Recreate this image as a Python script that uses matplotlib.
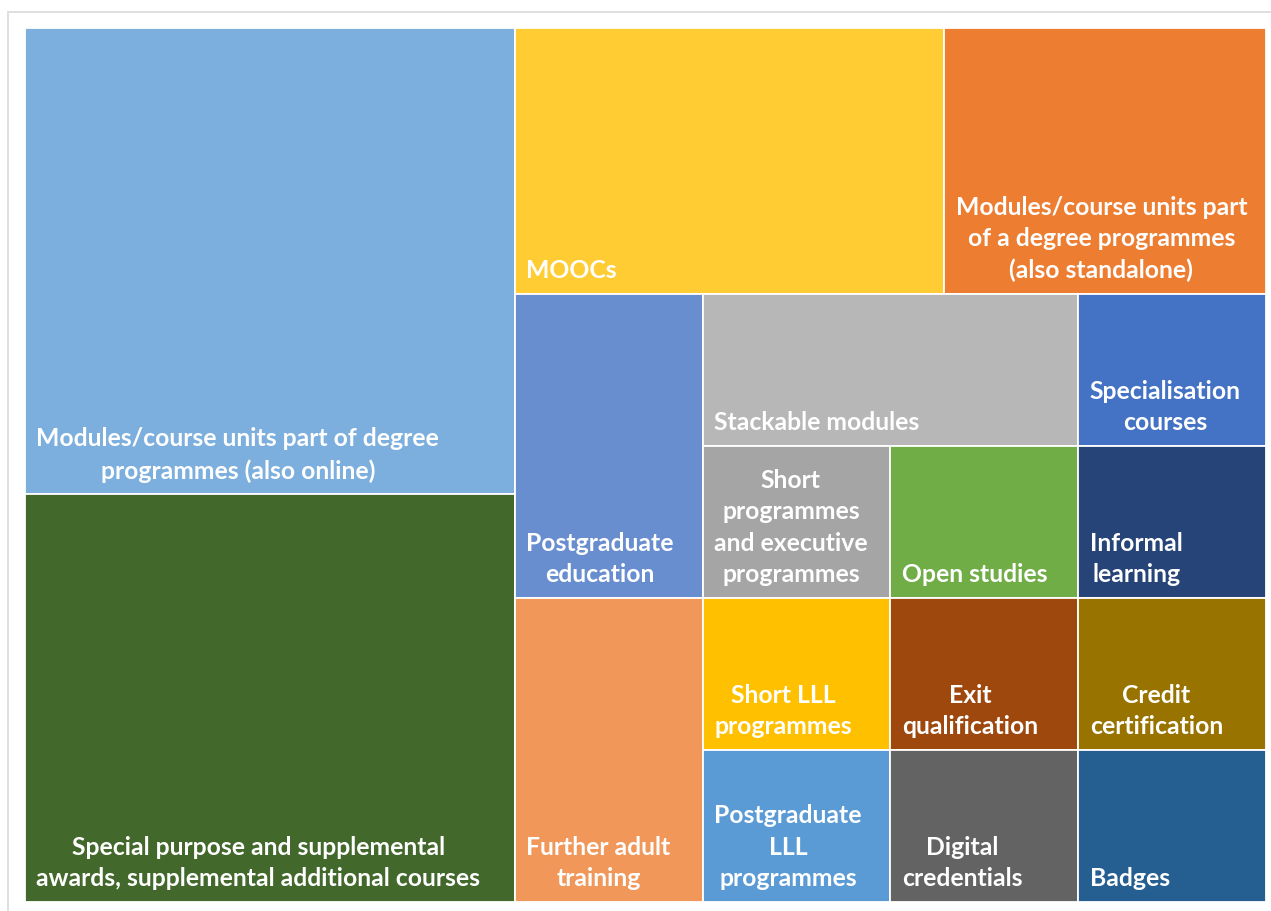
import matplotlib
matplotlib.use("Agg")
import matplotlib.pyplot as plt
from matplotlib.patches import Rectangle

# ---------------- data ----------------
categories = [
    "Modules/course units part of degree\nprogrammes (also online)",
    "Special purpose and supplemental\nawards, supplemental additional courses",
    "MOOCs",
    "Modules/course units part\nof a degree programmes\n(also standalone)",
    "Postgraduate\neducation",
    "Further adult\ntraining",
    "Stackable modules",
    "Specialisation\ncourses",
    "Short\nprogrammes\nand executive\nprogrammes",
    "Short LLL\nprogrammes",
    "Postgraduate\nLLL\nprogrammes",
    "Open studies",
    "Informal\nlearning",
    "Exit\nqualification",
    "Digital\ncredentials",
    "Credit\ncertification",
    "Badges",
]
values = [8, 7, 4, 3, 2, 2, 2, 1, 1, 1, 1, 1, 1, 1, 1, 1, 1]
colors = [
    "#7CAFDD", "#43682B", "#FFCD33", "#ED7D31", "#698ED0", "#F1975A",
    "#B7B7B7", "#4472C4", "#A5A5A5", "#FFC000", "#5B9BD5", "#70AD47",
    "#264478", "#9E480E", "#636363", "#997300", "#255E91",
]

# ---------------- figure ----------------
FW, FH = 1271, 912
DPI = 100
fig = plt.figure(figsize=(FW / DPI, FH / DPI), dpi=DPI)
fig.patch.set_facecolor("white")

left_px, top_px, right_px, bottom_px = 25, 29, 1266, 903
W = right_px - left_px
H = bottom_px - top_px
ax = fig.add_axes([left_px / FW, 1 - bottom_px / FH, W / FW, H / FH])
ax.set_xlim(0, W)
ax.set_ylim(H, 0)
ax.axis("off")

# light frame around the chart area
fig.add_artist(Rectangle((8 / FW, -0.05), 1.2, 1 - 13 / FH + 0.05,
                         transform=fig.transFigure, fill=False,
                         edgecolor="#D9D9D9", linewidth=1.2))


def treemap_layout(vals, x, y, w, h, limit=1.3):
    """Strip layout along the shorter side; items are added to a strip
    while its thickness stays within `limit` times the smallest cell length."""
    scale = w * h / float(sum(vals))
    rects = []
    i = 0
    n = len(vals)
    while i < n:
        if i == n - 1:
            rects.append((x, y, w, h))
            break
        column = h <= w
        L = h if column else w
        row = [vals[i]]
        j = i + 1
        while j < n:
            cand = row + [vals[j]]
            thick = sum(cand) * scale / L
            min_len = min(cand) * scale / thick
            if thick > limit * min_len:
                break
            row = cand
            j += 1
        thick = sum(row) * scale / L
        pos = 0.0
        for v in row:
            length = v * scale / thick
            if column:
                rects.append((x, y + pos, thick, length))
            else:
                rects.append((x + pos, y, length, thick))
            pos += length
        if column:
            x += thick
            w -= thick
        else:
            y += thick
            h -= thick
        i = j
    return rects


rects = treemap_layout(values, 0, 0, W, H)

for (rx, ry, rw, rh), lab, col in zip(rects, categories, colors):
    ax.add_patch(Rectangle((rx, ry), rw, rh, facecolor=col,
                           edgecolor="white", linewidth=1.3))
    ax.text(rx + 11.5, ry + rh - 12.5, lab, ha="left", va="bottom",
            multialignment="center", color="white", fontsize=17.8,
            fontweight="bold", family=["Lato", "DejaVu Sans"],
            linespacing=1.45)

fig.savefig("out.png", dpi=DPI, facecolor="white")
